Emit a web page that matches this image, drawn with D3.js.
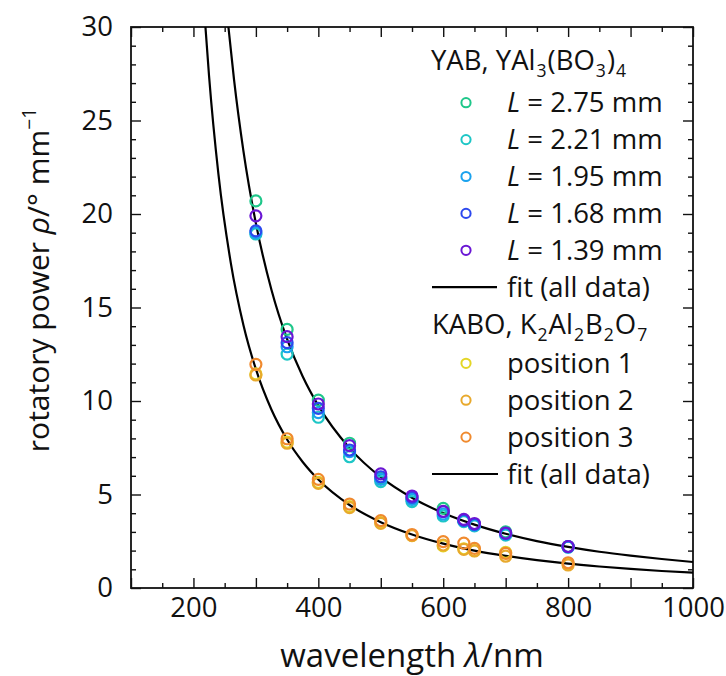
<!DOCTYPE html>
<html>
<head>
<meta charset="utf-8">
<script src="https://cdn.jsdelivr.net/npm/d3@7"></script>
<style>
  html, body { margin: 0; padding: 0; background: #fff; }
  svg text { font-family: "Open Sans", "Noto Sans", sans-serif; fill: #111; }
</style>
</head>
<body>
<div id="chart"></div>
<script>
// wavelengths (nm) where rotatory power was measured
const waves = [300, 350, 400, 450, 500, 550, 600, 633, 650, 700, 800];

// YAB, YAl3(BO3)4 — one array per crystal length
const yabLengths = ["2.75", "2.21", "1.95", "1.68", "1.39"];
const yabColors = ["#1fc78a", "#1ec6c6", "#1aa2ee", "#2c48ee", "#6a16d4"];
const yab275 = [20.7, 13.83, 10.05, 7.74, 5.86, 4.76, 4.26, 3.6, 3.4, 3.0, 2.22];
const yab221 = [18.93, 12.51, 9.13, 7.02, 5.69, 4.62, 3.85, 3.55, 3.32, 2.83, 2.18];
const yab195 = [19.0, 12.9, 9.38, 7.29, 5.81, 4.74, 3.95, 3.6, 3.36, 2.88, 2.2];
const yab168 = [19.1, 13.12, 9.61, 7.38, 5.95, 4.85, 4.08, 3.62, 3.4, 2.92, 2.21];
const yab139 = [19.9, 13.44, 9.84, 7.61, 6.1, 4.92, 4.1, 3.67, 3.45, 2.94, 2.22];

// KABO, K2Al2B2O7 — three sample positions
const kaboLabels = ["position 1", "position 2", "position 3"];
const kaboColors = ["#e4d626", "#e8a92c", "#f08a2e"];
const kaboPos1 = [11.45, 7.8, 5.65, 4.35, 3.5, 2.82, 2.25, 2.1, 2.0, 1.9, 1.3];
const kaboPos2 = [11.39, 7.74, 5.6, 4.3, 3.46, 2.8, 2.3, 2.07, 1.98, 1.7, 1.23];
const kaboPos3 = [11.96, 7.98, 5.81, 4.49, 3.6, 2.86, 2.48, 2.4, 2.12, 1.85, 1.35];

// fit curves
const fitYabX = [256, 265, 280, 300, 325, 350, 375, 400, 450, 500, 550, 600, 650, 700, 750, 800, 850, 900, 950, 1000];
const fitYabY = [30.0, 27.19, 23.38, 19.5, 15.94, 13.31, 11.31, 9.75, 7.48, 5.93, 4.83, 4.01, 3.39, 2.9, 2.51, 2.2, 1.94, 1.73, 1.55, 1.39];
const fitKaboX = [219, 225, 240, 260, 280, 300, 325, 350, 375, 400, 450, 500, 550, 600, 650, 700, 750, 800, 850, 900, 950, 1000];
const fitKaboY = [30.1, 27.38, 22.13, 17.35, 14.07, 11.7, 9.53, 7.94, 6.74, 5.8, 4.44, 3.52, 2.86, 2.37, 2.0, 1.72, 1.49, 1.3, 1.15, 1.02, 0.91, 0.82];

const xMajor = [100, 200, 300, 400, 500, 600, 700, 800, 900, 1000];
const xMinor = [150, 250, 350, 450, 550, 650, 750, 850, 950];
const yMajor = [0, 5, 10, 15, 20, 25, 30];
const yMinor = d3.range(0, 31).filter(v => v % 5 !== 0);

const width = 726;
const height = 676;
const margin = { top: 27, right: 33, bottom: 88, left: 131 };
const iw = width - margin.left - margin.right;
const ih = height - margin.top - margin.bottom;

const x = d3.scaleLinear().domain([100, 1000]).range([0, iw]);
const y = d3.scaleLinear().domain([0, 30]).range([ih, 0]);

const svg = d3.select("#chart")
  .append("svg")
  .attr("width", width)
  .attr("height", height);

const g = svg.append("g")
  .attr("transform", `translate(${margin.left},${margin.top})`);

g.append("clipPath").attr("id", "clip")
  .append("rect").attr("width", iw).attr("height", ih);

// axes, ticks pointing inwards on all four sides
function styleAxis(sel) {
  sel.select(".domain").remove();
  sel.selectAll(".tick line").attr("stroke", "#111").attr("stroke-width", 1.4);
  sel.selectAll(".tick text").attr("font-size", 27.5).attr("fill", "#111");
}

g.append("g").attr("transform", `translate(0,${ih})`)
  .call(d3.axisBottom(x).tickValues(xMajor).tickSize(-10).tickPadding(9)
    .tickFormat(d => d % 200 === 0 ? d : ""))
  .call(styleAxis);
g.append("g").attr("transform", `translate(0,${ih})`)
  .call(d3.axisBottom(x).tickValues(xMinor).tickSize(-5).tickFormat(""))
  .call(styleAxis);
g.append("g")
  .call(d3.axisTop(x).tickValues(xMajor).tickSize(-10).tickFormat(""))
  .call(styleAxis);
g.append("g")
  .call(d3.axisTop(x).tickValues(xMinor).tickSize(-5).tickFormat(""))
  .call(styleAxis);

g.append("g")
  .call(d3.axisLeft(y).tickValues(yMajor).tickSize(-10).tickPadding(18))
  .call(styleAxis);
g.append("g")
  .call(d3.axisLeft(y).tickValues(yMinor).tickSize(-5).tickFormat(""))
  .call(styleAxis);
g.append("g").attr("transform", `translate(${iw},0)`)
  .call(d3.axisRight(y).tickValues(yMajor).tickSize(-10).tickFormat(""))
  .call(styleAxis);
g.append("g").attr("transform", `translate(${iw},0)`)
  .call(d3.axisRight(y).tickValues(yMinor).tickSize(-5).tickFormat(""))
  .call(styleAxis);

// frame
g.append("rect")
  .attr("width", iw).attr("height", ih)
  .attr("fill", "none").attr("stroke", "#111").attr("stroke-width", 1.8);

// fit lines
const line = d3.line()
  .x(d => x(d[0]))
  .y(d => y(d[1]))
  .curve(d3.curveMonotoneX);

const plot = g.append("g").attr("clip-path", "url(#clip)");
[[fitYabX, fitYabY], [fitKaboX, fitKaboY]].forEach(([xs, ys]) => {
  plot.append("path")
    .datum(xs.map((v, i) => [v, ys[i]]))
    .attr("fill", "none")
    .attr("stroke", "#000")
    .attr("stroke-width", 2.2)
    .attr("d", line);
});

// measured points
const series = [
  { vals: kaboPos1, color: kaboColors[0] },
  { vals: kaboPos2, color: kaboColors[1] },
  { vals: kaboPos3, color: kaboColors[2] },
  { vals: yab275, color: yabColors[0] },
  { vals: yab221, color: yabColors[1] },
  { vals: yab195, color: yabColors[2] },
  { vals: yab168, color: yabColors[3] },
  { vals: yab139, color: yabColors[4] }
];

series.forEach(s => {
  plot.append("g")
    .selectAll("circle")
    .data(s.vals.map((v, i) => [waves[i], v]))
    .enter()
    .append("circle")
    .attr("cx", d => x(d[0]))
    .attr("cy", d => y(d[1]))
    .attr("r", 5.5)
    .attr("fill", "none")
    .attr("stroke", s.color)
    .attr("stroke-width", 2.2);
});

// rich text helper: pieces are [text, kind] with kind "", "i", "sub", "sup"
function richText(parent, pieces, size) {
  const t = parent.append("text").attr("font-size", size);
  let shift = 0;
  let prev = "";
  pieces.forEach(([txt, kind]) => {
    const ts = t.append("tspan").text(txt);
    let target = 0;
    if (kind === "sub") target = size * 0.26;
    if (kind === "sup") target = -size * 0.42;
    ts.attr("dy", target - shift);
    shift = target;
    if (kind === "sub" || kind === "sup") ts.attr("font-size", size * 0.64);
    if (kind === "i") ts.attr("font-style", "italic");
    if (kind === "sub" || prev === "sub") ts.attr("dx", 1);
    prev = kind;
  });
  return t;
}

// legend
const leg = svg.append("g");
const legSize = 27.5;
const rowH = 36.9;
const circX = 466;
const textX = 507;

richText(leg, [["YAB, YAl", ""], ["3", "sub"], ["(BO", ""], ["3", "sub"], [")", ""], ["4", "sub"]], legSize)
  .attr("x", 431).attr("y", 70);

yabLengths.forEach((len, i) => {
  const cy = 102.7 + i * rowH;
  leg.append("circle").attr("cx", circX).attr("cy", cy).attr("r", 4.6)
    .attr("fill", "none").attr("stroke", yabColors[i]).attr("stroke-width", 2);
  richText(leg, [["L", "i"], [" = " + len + " mm", ""]], legSize)
    .attr("x", textX).attr("y", cy + 9.5);
});

let fy = 102.7 + 5 * rowH;
leg.append("line").attr("x1", 432).attr("x2", 497).attr("y1", fy).attr("y2", fy)
  .attr("stroke", "#000").attr("stroke-width", 2.2);
leg.append("text").attr("font-size", legSize).attr("x", textX).attr("y", fy + 9.5)
  .text("fit (all data)");

richText(leg, [["KABO, K", ""], ["2", "sub"], ["Al", ""], ["2", "sub"], ["B", ""], ["2", "sub"], ["O", ""], ["7", "sub"]], legSize)
  .attr("x", 432).attr("y", 334);

kaboLabels.forEach((lab, i) => {
  const cy = 363.3 + i * rowH;
  leg.append("circle").attr("cx", circX).attr("cy", cy).attr("r", 4.6)
    .attr("fill", "none").attr("stroke", kaboColors[i]).attr("stroke-width", 2);
  leg.append("text").attr("font-size", legSize).attr("x", textX).attr("y", cy + 9.5)
    .text(lab);
});

fy = 363.3 + 3 * rowH;
leg.append("line").attr("x1", 432).attr("x2", 498).attr("y1", fy).attr("y2", fy)
  .attr("stroke", "#000").attr("stroke-width", 2.2);
leg.append("text").attr("font-size", legSize).attr("x", textX).attr("y", fy + 9.5)
  .text("fit (all data)");

// axis titles
richText(svg, [["wavelength ", ""], ["λ", "i"], ["/nm", ""]], 33)
  .attr("x", margin.left + iw / 2).attr("y", 667).attr("text-anchor", "middle");

richText(svg, [["rotatory power ", ""], ["ρ", "i"], ["/° mm", ""], ["−1", "sup"]], 30)
  .attr("text-anchor", "middle")
  .attr("transform", "translate(49,280) rotate(-90)");
</script>
</body>
</html>
